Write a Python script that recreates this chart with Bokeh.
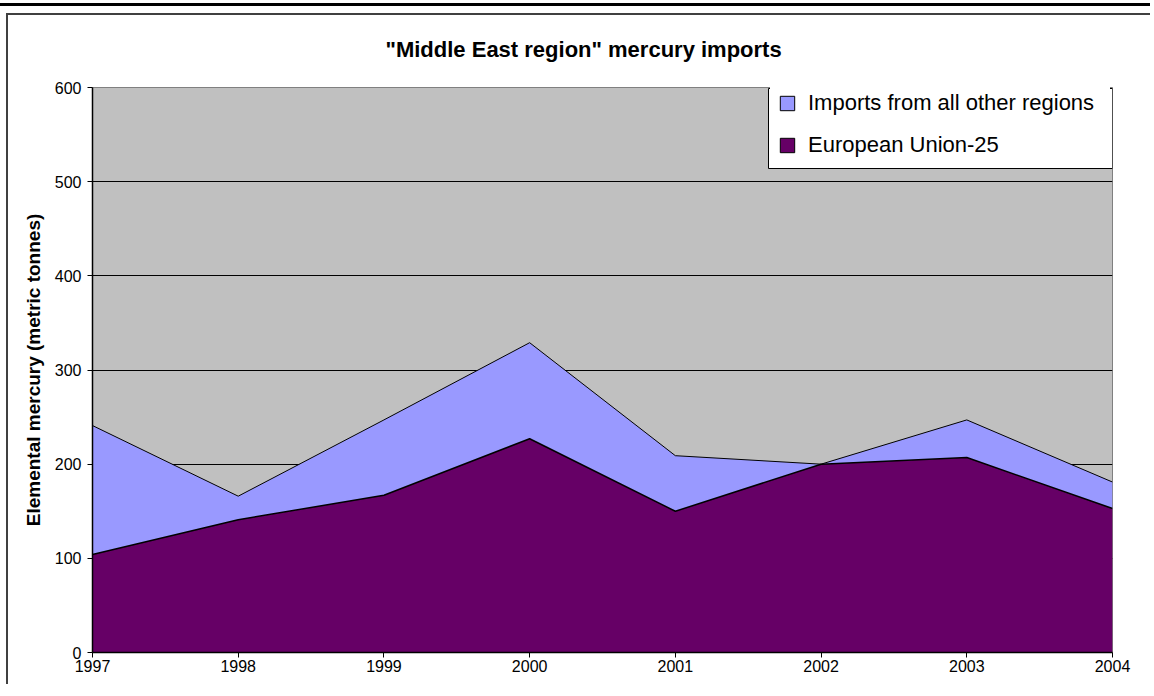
from bokeh.plotting import figure
from bokeh.models import (ColumnDataSource, FixedTicker, Legend, LegendItem, Range1d,
                          BoxAnnotation)
from bokeh.embed import file_html
from bokeh.resources import INLINE

# ---- data ----
years = [1997, 1998, 1999, 2000, 2001, 2002, 2003, 2004]
eu25 = [104, 141, 167, 227, 150, 200, 207, 153]
other_regions = [137, 25, 80, 102, 59, 0, 40, 28]
y_ticks = [0, 100, 200, 300, 400, 500, 600]
title_text = '"Middle East region" mercury imports'
y_label = "Elemental mercury (metric tonnes)"
series_names = ["European Union-25", "Imports from all other regions"]
series_colors = ["#660066", "#9999FF"]

FONT = "Liberation Sans"

source = ColumnDataSource(dict(year=years, eu=eu25, other=other_regions))

W, H = 1150, 684
p = figure(
    width=W, height=H,
    output_backend="svg", toolbar_location=None,
    x_range=Range1d(years[0], years[-1]), y_range=Range1d(y_ticks[0], y_ticks[-1]),
    min_border_left=92, min_border_right=38, min_border_top=87, min_border_bottom=32,
    background_fill_color="#C0C0C0", border_fill_color="white", border_fill_alpha=0,
    outline_line_color="#808080", outline_line_width=1,
)
# thin black rule at the top, and the outer chart box (left/top edges), as inset shadows
p.styles = {
    "background-color": "white",
    "box-shadow": ("inset 0 3px 0 0 white, inset 0 6px 0 0 black, "
                   "inset 6px 13px 0 0 white, inset 8px 15px 0 0 #404040"),
}

# title
p.title.text = title_text
p.title.text_font = FONT
p.title.text_font_size = "22px"
p.title.text_font_style = "bold"
p.title.text_color = "black"
p.title.align = "left"
p.title.offset = 293
p.title.standoff = 51

# legend frame (drawn before the legend, slightly larger than the legend box)
p.add_layout(BoxAnnotation(left=768, right=1112, top=88, bottom=168,
                           left_units="canvas", right_units="canvas",
                           top_units="canvas", bottom_units="canvas",
                           fill_color="white", fill_alpha=1.0,
                           line_color="black", line_width=1, line_alpha=1))

# stacked areas
areas = p.varea_stack(["eu", "other"], x="year", source=source, color=series_colors)
p.vline_stack(["eu", "other"], x="year", source=source, color="black", line_width=[1.5, 1])

# legend swatches: quads placed far outside the visible y range (never visible),
# used only for their legend glyphs (fill + black outline)
sw_eu = p.quad(left="year", right="year", top="year", bottom="year", source=source,
               fill_color=series_colors[0], line_color="black")
sw_ot = p.quad(left="year", right="year", top="year", bottom="year", source=source,
               fill_color=series_colors[1], line_color="black")

legend = Legend(
    items=[LegendItem(label=series_names[1], renderers=[sw_ot]),
           LegendItem(label=series_names[0], renderers=[sw_eu])],
    location=(678, 486),
    label_text_font=FONT, label_text_font_size="22px", label_text_color="black",
    glyph_width=18, glyph_height=18, label_standoff=12,
    label_height=20, label_width=294,
    padding=8, spacing=16, margin=0,
    border_line_color="black", border_line_alpha=0,
    background_fill_color="white", background_fill_alpha=1.0,
)
p.add_layout(legend)

# axes
p.xaxis.ticker = FixedTicker(ticks=years)
p.yaxis.ticker = FixedTicker(ticks=y_ticks)
for ax in (p.xaxis, p.yaxis):
    ax.major_label_text_font = FONT
    ax.major_label_text_font_size = "16px"
    ax.major_label_text_color = "black"
    ax.axis_line_color = "black"
    ax.axis_line_width = 1.5
    ax.major_tick_line_color = "black"
    ax.major_tick_out = 5
    ax.major_tick_in = 0
    ax.minor_tick_out = 0
    ax.minor_tick_in = 0
p.xaxis.major_label_standoff = 2
p.yaxis.major_label_standoff = 6
p.yaxis.axis_label = y_label
p.yaxis.axis_label_text_font = FONT
p.yaxis.axis_label_text_font_size = "19px"
p.yaxis.axis_label_text_font_style = "bold"
p.yaxis.axis_label_text_color = "black"
p.yaxis.axis_label_standoff = 8

# grid
p.xgrid.visible = False
p.ygrid.ticker = FixedTicker(ticks=y_ticks[1:-1])
p.ygrid.grid_line_color = "black"
p.ygrid.grid_line_width = 1

open("out.html", "w").write(file_html(p, INLINE))
